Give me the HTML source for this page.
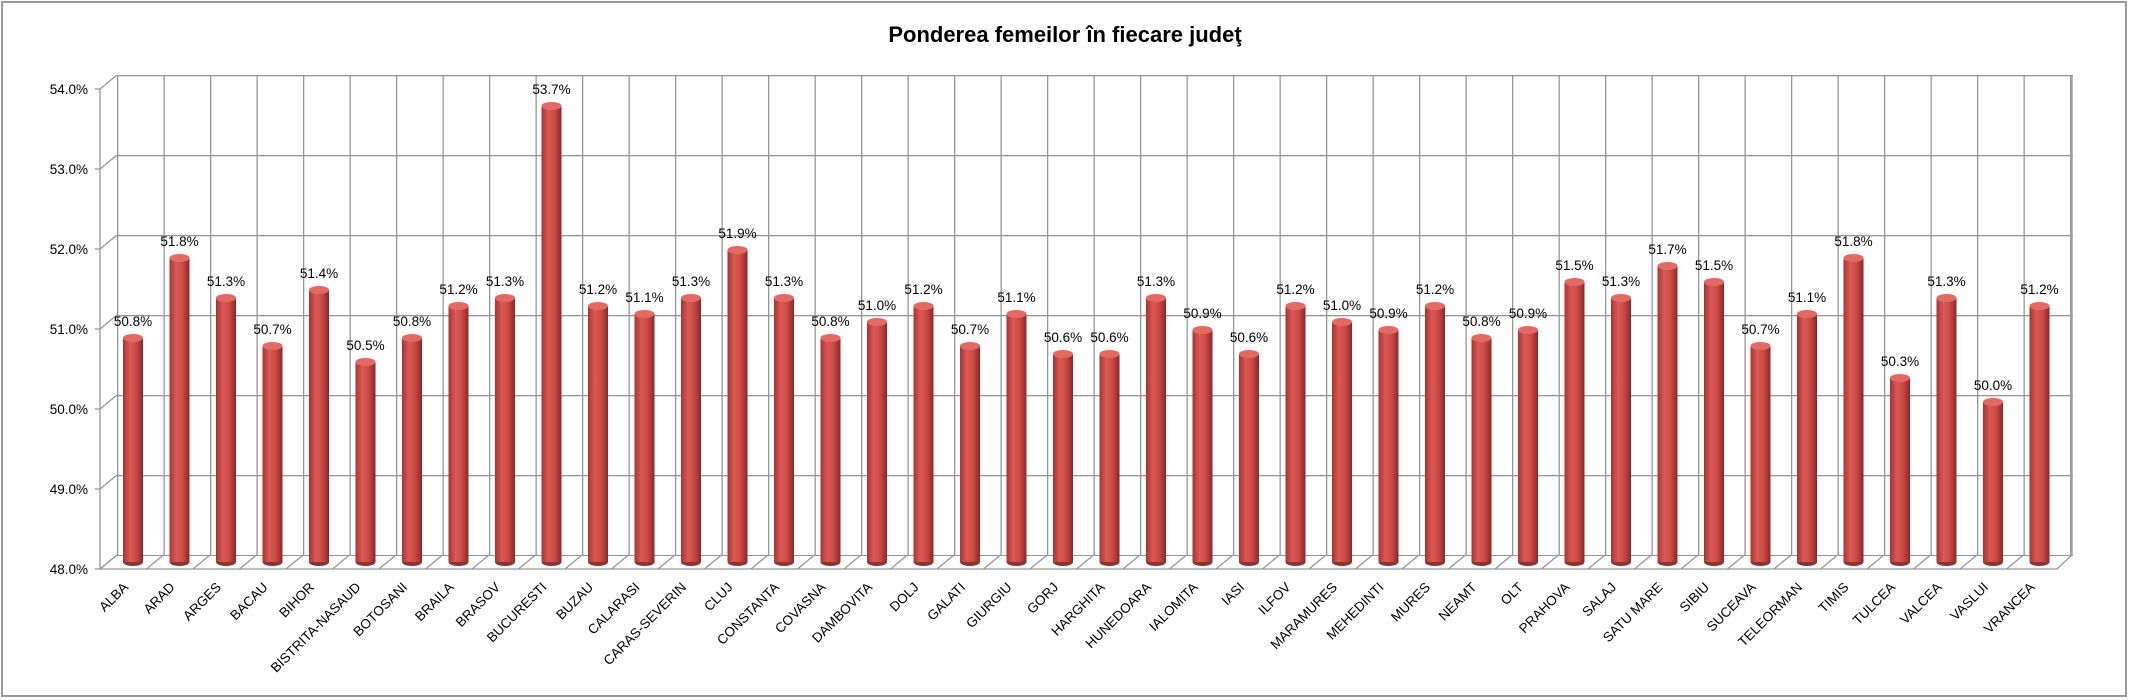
<!DOCTYPE html>
<html><head><meta charset="utf-8"><style>
body{margin:0;background:#fff}
svg{display:block;font-family:"Liberation Sans",sans-serif}
</style></head><body>
<svg width="2129" height="700" viewBox="0 0 2129 700" xmlns="http://www.w3.org/2000/svg">
<defs>
<linearGradient id="g" x1="0" x2="1" y1="0" y2="0">
<stop offset="0" stop-color="#a83431"/><stop offset="0.35" stop-color="#dc5a55"/><stop offset="0.65" stop-color="#cc4a45"/><stop offset="1" stop-color="#8a2826"/>
</linearGradient>
<pattern id="pv" x="117" y="0" width="46.5" height="10" patternUnits="userSpaceOnUse"><rect x="0" y="0" width="1.3" height="10" fill="#969696"/></pattern>
<pattern id="ph" x="0" y="75" width="10" height="80" patternUnits="userSpaceOnUse"><rect x="0" y="0" width="10" height="1.3" fill="#969696"/></pattern>
<g id="b"><ellipse cx="0" cy="562" rx="10" ry="4" fill="#962e2b"/></g>
</defs>
<rect x="2" y="2" width="2124" height="694" fill="#fff" stroke="#9a9a9a" stroke-width="2"/>
<text x="1065" y="42" text-anchor="middle" font-size="22" font-weight="bold" fill="#000">Ponderea femeilor în fiecare judeţ</text>
<rect x="117" y="75" width="1956" height="481" fill="url(#pv)"/>
<rect x="117" y="75" width="1956" height="481" fill="url(#ph)"/>
<g stroke="#969696" stroke-width="1.3" fill="none">
<path d="M100 89V569H2057L2072 555V75M100 569l17-14M100 89l17-14M100 169l17-14M100 249l17-14M100 329l17-14M100 409l17-14M100 489l17-14M95 89h5M95 169h5M95 249h5M95 329h5M95 409h5M95 489h5M95 569h5"/>
<path d="M117 555l-17 14m63.5 -14l-17 14m63.5 -14l-17 14m63.5 -14l-17 14m63.5 -14l-17 14m63.5 -14l-17 14m63.5 -14l-17 14m63.5 -14l-17 14m63.5 -14l-17 14m63.5 -14l-17 14m63.5 -14l-17 14m63.5 -14l-17 14m63.5 -14l-17 14m63.5 -14l-17 14m63.5 -14l-17 14m63.5 -14l-17 14m63.5 -14l-17 14m63.5 -14l-17 14m63.5 -14l-17 14m63.5 -14l-17 14m63.5 -14l-17 14m63.5 -14l-17 14m63.5 -14l-17 14m63.5 -14l-17 14m63.5 -14l-17 14m63.5 -14l-17 14m63.5 -14l-17 14m63.5 -14l-17 14m63.5 -14l-17 14m63.5 -14l-17 14m63.5 -14l-17 14m63.5 -14l-17 14m63.5 -14l-17 14m63.5 -14l-17 14m63.5 -14l-17 14m63.5 -14l-17 14m63.5 -14l-17 14m63.5 -14l-17 14m63.5 -14l-17 14m63.5 -14l-17 14m63.5 -14l-17 14m63.5 -14l-17 14"/>
</g>
<g font-size="13.5" fill="#000" text-anchor="end">
<text x="88" y="94">54.0%</text><text x="88" y="174">53.0%</text><text x="88" y="254">52.0%</text><text x="88" y="334">51.0%</text><text x="88" y="414">50.0%</text><text x="88" y="494">49.0%</text><text x="88" y="574">48.0%</text>
</g>
<g id="bars" font-size="13.5" fill="#000" text-anchor="middle">
<g transform="translate(133 0)"><use href="#b"/><rect x="-10" y="338" width="20" height="224" fill="url(#g)"/><ellipse cy="338" rx="10" ry="4" fill="#e06a64"/><text y="326">50.8%</text><text transform="translate(-4 588) rotate(-45)" text-anchor="end">ALBA</text></g>
<g transform="translate(179.5 0)"><use href="#b"/><rect x="-10" y="258" width="20" height="304" fill="url(#g)"/><ellipse cy="258" rx="10" ry="4" fill="#e06a64"/><text y="246">51.8%</text><text transform="translate(-4 588) rotate(-45)" text-anchor="end">ARAD</text></g>
<g transform="translate(226 0)"><use href="#b"/><rect x="-10" y="298" width="20" height="264" fill="url(#g)"/><ellipse cy="298" rx="10" ry="4" fill="#e06a64"/><text y="286">51.3%</text><text transform="translate(-4 588) rotate(-45)" text-anchor="end">ARGES</text></g>
<g transform="translate(272.5 0)"><use href="#b"/><rect x="-10" y="346" width="20" height="216" fill="url(#g)"/><ellipse cy="346" rx="10" ry="4" fill="#e06a64"/><text y="334">50.7%</text><text transform="translate(-4 588) rotate(-45)" text-anchor="end">BACAU</text></g>
<g transform="translate(319 0)"><use href="#b"/><rect x="-10" y="290" width="20" height="272" fill="url(#g)"/><ellipse cy="290" rx="10" ry="4" fill="#e06a64"/><text y="278">51.4%</text><text transform="translate(-4 588) rotate(-45)" text-anchor="end">BIHOR</text></g>
<g transform="translate(365.5 0)"><use href="#b"/><rect x="-10" y="362" width="20" height="200" fill="url(#g)"/><ellipse cy="362" rx="10" ry="4" fill="#e06a64"/><text y="350">50.5%</text><text transform="translate(-4 588) rotate(-45)" text-anchor="end">BISTRITA-NASAUD</text></g>
<g transform="translate(412 0)"><use href="#b"/><rect x="-10" y="338" width="20" height="224" fill="url(#g)"/><ellipse cy="338" rx="10" ry="4" fill="#e06a64"/><text y="326">50.8%</text><text transform="translate(-4 588) rotate(-45)" text-anchor="end">BOTOSANI</text></g>
<g transform="translate(458.5 0)"><use href="#b"/><rect x="-10" y="306" width="20" height="256" fill="url(#g)"/><ellipse cy="306" rx="10" ry="4" fill="#e06a64"/><text y="294">51.2%</text><text transform="translate(-4 588) rotate(-45)" text-anchor="end">BRAILA</text></g>
<g transform="translate(505 0)"><use href="#b"/><rect x="-10" y="298" width="20" height="264" fill="url(#g)"/><ellipse cy="298" rx="10" ry="4" fill="#e06a64"/><text y="286">51.3%</text><text transform="translate(-4 588) rotate(-45)" text-anchor="end">BRASOV</text></g>
<g transform="translate(551.5 0)"><use href="#b"/><rect x="-10" y="106" width="20" height="456" fill="url(#g)"/><ellipse cy="106" rx="10" ry="4" fill="#e06a64"/><text y="94">53.7%</text><text transform="translate(-4 588) rotate(-45)" text-anchor="end">BUCURESTI</text></g>
<g transform="translate(598 0)"><use href="#b"/><rect x="-10" y="306" width="20" height="256" fill="url(#g)"/><ellipse cy="306" rx="10" ry="4" fill="#e06a64"/><text y="294">51.2%</text><text transform="translate(-4 588) rotate(-45)" text-anchor="end">BUZAU</text></g>
<g transform="translate(644.5 0)"><use href="#b"/><rect x="-10" y="314" width="20" height="248" fill="url(#g)"/><ellipse cy="314" rx="10" ry="4" fill="#e06a64"/><text y="302">51.1%</text><text transform="translate(-4 588) rotate(-45)" text-anchor="end">CALARASI</text></g>
<g transform="translate(691 0)"><use href="#b"/><rect x="-10" y="298" width="20" height="264" fill="url(#g)"/><ellipse cy="298" rx="10" ry="4" fill="#e06a64"/><text y="286">51.3%</text><text transform="translate(-4 588) rotate(-45)" text-anchor="end">CARAS-SEVERIN</text></g>
<g transform="translate(737.5 0)"><use href="#b"/><rect x="-10" y="250" width="20" height="312" fill="url(#g)"/><ellipse cy="250" rx="10" ry="4" fill="#e06a64"/><text y="238">51.9%</text><text transform="translate(-4 588) rotate(-45)" text-anchor="end">CLUJ</text></g>
<g transform="translate(784 0)"><use href="#b"/><rect x="-10" y="298" width="20" height="264" fill="url(#g)"/><ellipse cy="298" rx="10" ry="4" fill="#e06a64"/><text y="286">51.3%</text><text transform="translate(-4 588) rotate(-45)" text-anchor="end">CONSTANTA</text></g>
<g transform="translate(830.5 0)"><use href="#b"/><rect x="-10" y="338" width="20" height="224" fill="url(#g)"/><ellipse cy="338" rx="10" ry="4" fill="#e06a64"/><text y="326">50.8%</text><text transform="translate(-4 588) rotate(-45)" text-anchor="end">COVASNA</text></g>
<g transform="translate(877 0)"><use href="#b"/><rect x="-10" y="322" width="20" height="240" fill="url(#g)"/><ellipse cy="322" rx="10" ry="4" fill="#e06a64"/><text y="310">51.0%</text><text transform="translate(-4 588) rotate(-45)" text-anchor="end">DAMBOVITA</text></g>
<g transform="translate(923.5 0)"><use href="#b"/><rect x="-10" y="306" width="20" height="256" fill="url(#g)"/><ellipse cy="306" rx="10" ry="4" fill="#e06a64"/><text y="294">51.2%</text><text transform="translate(-4 588) rotate(-45)" text-anchor="end">DOLJ</text></g>
<g transform="translate(970 0)"><use href="#b"/><rect x="-10" y="346" width="20" height="216" fill="url(#g)"/><ellipse cy="346" rx="10" ry="4" fill="#e06a64"/><text y="334">50.7%</text><text transform="translate(-4 588) rotate(-45)" text-anchor="end">GALATI</text></g>
<g transform="translate(1016.5 0)"><use href="#b"/><rect x="-10" y="314" width="20" height="248" fill="url(#g)"/><ellipse cy="314" rx="10" ry="4" fill="#e06a64"/><text y="302">51.1%</text><text transform="translate(-4 588) rotate(-45)" text-anchor="end">GIURGIU</text></g>
<g transform="translate(1063 0)"><use href="#b"/><rect x="-10" y="354" width="20" height="208" fill="url(#g)"/><ellipse cy="354" rx="10" ry="4" fill="#e06a64"/><text y="342">50.6%</text><text transform="translate(-4 588) rotate(-45)" text-anchor="end">GORJ</text></g>
<g transform="translate(1109.5 0)"><use href="#b"/><rect x="-10" y="354" width="20" height="208" fill="url(#g)"/><ellipse cy="354" rx="10" ry="4" fill="#e06a64"/><text y="342">50.6%</text><text transform="translate(-4 588) rotate(-45)" text-anchor="end">HARGHITA</text></g>
<g transform="translate(1156 0)"><use href="#b"/><rect x="-10" y="298" width="20" height="264" fill="url(#g)"/><ellipse cy="298" rx="10" ry="4" fill="#e06a64"/><text y="286">51.3%</text><text transform="translate(-4 588) rotate(-45)" text-anchor="end">HUNEDOARA</text></g>
<g transform="translate(1202.5 0)"><use href="#b"/><rect x="-10" y="330" width="20" height="232" fill="url(#g)"/><ellipse cy="330" rx="10" ry="4" fill="#e06a64"/><text y="318">50.9%</text><text transform="translate(-4 588) rotate(-45)" text-anchor="end">IALOMITA</text></g>
<g transform="translate(1249 0)"><use href="#b"/><rect x="-10" y="354" width="20" height="208" fill="url(#g)"/><ellipse cy="354" rx="10" ry="4" fill="#e06a64"/><text y="342">50.6%</text><text transform="translate(-4 588) rotate(-45)" text-anchor="end">IASI</text></g>
<g transform="translate(1295.5 0)"><use href="#b"/><rect x="-10" y="306" width="20" height="256" fill="url(#g)"/><ellipse cy="306" rx="10" ry="4" fill="#e06a64"/><text y="294">51.2%</text><text transform="translate(-4 588) rotate(-45)" text-anchor="end">ILFOV</text></g>
<g transform="translate(1342 0)"><use href="#b"/><rect x="-10" y="322" width="20" height="240" fill="url(#g)"/><ellipse cy="322" rx="10" ry="4" fill="#e06a64"/><text y="310">51.0%</text><text transform="translate(-4 588) rotate(-45)" text-anchor="end">MARAMURES</text></g>
<g transform="translate(1388.5 0)"><use href="#b"/><rect x="-10" y="330" width="20" height="232" fill="url(#g)"/><ellipse cy="330" rx="10" ry="4" fill="#e06a64"/><text y="318">50.9%</text><text transform="translate(-4 588) rotate(-45)" text-anchor="end">MEHEDINTI</text></g>
<g transform="translate(1435 0)"><use href="#b"/><rect x="-10" y="306" width="20" height="256" fill="url(#g)"/><ellipse cy="306" rx="10" ry="4" fill="#e06a64"/><text y="294">51.2%</text><text transform="translate(-4 588) rotate(-45)" text-anchor="end">MURES</text></g>
<g transform="translate(1481.5 0)"><use href="#b"/><rect x="-10" y="338" width="20" height="224" fill="url(#g)"/><ellipse cy="338" rx="10" ry="4" fill="#e06a64"/><text y="326">50.8%</text><text transform="translate(-4 588) rotate(-45)" text-anchor="end">NEAMT</text></g>
<g transform="translate(1528 0)"><use href="#b"/><rect x="-10" y="330" width="20" height="232" fill="url(#g)"/><ellipse cy="330" rx="10" ry="4" fill="#e06a64"/><text y="318">50.9%</text><text transform="translate(-4 588) rotate(-45)" text-anchor="end">OLT</text></g>
<g transform="translate(1574.5 0)"><use href="#b"/><rect x="-10" y="282" width="20" height="280" fill="url(#g)"/><ellipse cy="282" rx="10" ry="4" fill="#e06a64"/><text y="270">51.5%</text><text transform="translate(-4 588) rotate(-45)" text-anchor="end">PRAHOVA</text></g>
<g transform="translate(1621 0)"><use href="#b"/><rect x="-10" y="298" width="20" height="264" fill="url(#g)"/><ellipse cy="298" rx="10" ry="4" fill="#e06a64"/><text y="286">51.3%</text><text transform="translate(-4 588) rotate(-45)" text-anchor="end">SALAJ</text></g>
<g transform="translate(1667.5 0)"><use href="#b"/><rect x="-10" y="266" width="20" height="296" fill="url(#g)"/><ellipse cy="266" rx="10" ry="4" fill="#e06a64"/><text y="254">51.7%</text><text transform="translate(-4 588) rotate(-45)" text-anchor="end">SATU MARE</text></g>
<g transform="translate(1714 0)"><use href="#b"/><rect x="-10" y="282" width="20" height="280" fill="url(#g)"/><ellipse cy="282" rx="10" ry="4" fill="#e06a64"/><text y="270">51.5%</text><text transform="translate(-4 588) rotate(-45)" text-anchor="end">SIBIU</text></g>
<g transform="translate(1760.5 0)"><use href="#b"/><rect x="-10" y="346" width="20" height="216" fill="url(#g)"/><ellipse cy="346" rx="10" ry="4" fill="#e06a64"/><text y="334">50.7%</text><text transform="translate(-4 588) rotate(-45)" text-anchor="end">SUCEAVA</text></g>
<g transform="translate(1807 0)"><use href="#b"/><rect x="-10" y="314" width="20" height="248" fill="url(#g)"/><ellipse cy="314" rx="10" ry="4" fill="#e06a64"/><text y="302">51.1%</text><text transform="translate(-4 588) rotate(-45)" text-anchor="end">TELEORMAN</text></g>
<g transform="translate(1853.5 0)"><use href="#b"/><rect x="-10" y="258" width="20" height="304" fill="url(#g)"/><ellipse cy="258" rx="10" ry="4" fill="#e06a64"/><text y="246">51.8%</text><text transform="translate(-4 588) rotate(-45)" text-anchor="end">TIMIS</text></g>
<g transform="translate(1900 0)"><use href="#b"/><rect x="-10" y="378" width="20" height="184" fill="url(#g)"/><ellipse cy="378" rx="10" ry="4" fill="#e06a64"/><text y="366">50.3%</text><text transform="translate(-4 588) rotate(-45)" text-anchor="end">TULCEA</text></g>
<g transform="translate(1946.5 0)"><use href="#b"/><rect x="-10" y="298" width="20" height="264" fill="url(#g)"/><ellipse cy="298" rx="10" ry="4" fill="#e06a64"/><text y="286">51.3%</text><text transform="translate(-4 588) rotate(-45)" text-anchor="end">VALCEA</text></g>
<g transform="translate(1993 0)"><use href="#b"/><rect x="-10" y="402" width="20" height="160" fill="url(#g)"/><ellipse cy="402" rx="10" ry="4" fill="#e06a64"/><text y="390">50.0%</text><text transform="translate(-4 588) rotate(-45)" text-anchor="end">VASLUI</text></g>
<g transform="translate(2039.5 0)"><use href="#b"/><rect x="-10" y="306" width="20" height="256" fill="url(#g)"/><ellipse cy="306" rx="10" ry="4" fill="#e06a64"/><text y="294">51.2%</text><text transform="translate(-4 588) rotate(-45)" text-anchor="end">VRANCEA</text></g>
</g>
</svg>
</body></html>
